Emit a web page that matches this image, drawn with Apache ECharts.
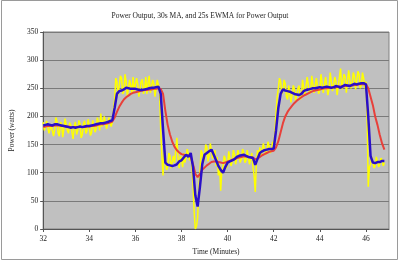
<!DOCTYPE html>
<html><head><meta charset="utf-8">
<script src="https://cdn.jsdelivr.net/npm/echarts@6/dist/echarts.min.js"></script>
<style>html,body{margin:0;padding:0;background:#fff}#c{width:400px;height:264px}</style>
</head><body><div id="c"></div>
<script>
// smoothed series sampled every 0.1 min
var times = [32.0,32.1,32.2,32.3,32.4,32.5,32.6,32.7,32.8,32.9,
33.0,33.1,33.2,33.3,33.4,33.5,33.6,33.7,33.8,33.9,
34.0,34.1,34.2,34.3,34.4,34.5,34.6,34.7,34.8,34.9,
35.0,35.1,35.2,35.3,35.4,35.5,35.6,35.7,35.8,35.9,
36.0,36.1,36.2,36.3,36.4,36.5,36.6,36.7,36.8,36.9,
37.0,37.1,37.2,37.3,37.4,37.5,37.6,37.7,37.8,37.9,
38.0,38.1,38.2,38.3,38.4,38.5,38.6,38.7,38.8,38.9,
39.0,39.1,39.2,39.3,39.4,39.5,39.6,39.7,39.8,39.9,
40.0,40.1,40.2,40.3,40.4,40.5,40.6,40.7,40.8,40.9,
41.0,41.1,41.2,41.3,41.4,41.5,41.6,41.7,41.8,41.9,
42.0,42.1,42.2,42.3,42.4,42.5,42.6,42.7,42.8,42.9,
43.0,43.1,43.2,43.3,43.4,43.5,43.6,43.7,43.8,43.9,
44.0,44.1,44.2,44.3,44.4,44.5,44.6,44.7,44.8,44.9,
45.0,45.1,45.2,45.3,45.4,45.5,45.6,45.7,45.8,45.9,
46.0,46.1,46.2,46.3,46.4,46.5,46.6,46.7,46.8];

// raw power sampled every 0.05 min
var rawTimes = [32.00,32.05,32.10,32.15,32.20,32.25,32.30,32.35,32.40,32.45,32.50,32.55,32.60,32.65,32.70,32.75,32.80,32.85,32.90,32.95,
33.00,33.05,33.10,33.15,33.20,33.25,33.30,33.35,33.40,33.45,33.50,33.55,33.60,33.65,33.70,33.75,33.80,33.85,33.90,33.95,
34.00,34.05,34.10,34.15,34.20,34.25,34.30,34.35,34.40,34.45,34.50,34.55,34.60,34.65,34.70,34.75,34.80,34.85,34.90,34.95,
35.00,35.05,35.10,35.15,35.20,35.25,35.30,35.35,35.40,35.45,35.50,35.55,35.60,35.65,35.70,35.75,35.80,35.85,35.90,35.95,
36.00,36.05,36.10,36.15,36.20,36.25,36.30,36.35,36.40,36.45,36.50,36.55,36.60,36.65,36.70,36.75,36.80,36.85,36.90,36.95,
37.00,37.05,37.10,37.15,37.20,37.25,37.30,37.35,37.40,37.45,37.50,37.55,37.60,37.65,37.70,37.75,37.80,37.85,37.90,37.95,
38.00,38.05,38.10,38.15,38.20,38.25,38.30,38.35,38.40,38.45,38.50,38.55,38.60,38.65,38.70,38.75,38.80,38.85,38.90,38.95,
39.00,39.05,39.10,39.15,39.20,39.25,39.30,39.35,39.40,39.45,39.50,39.55,39.60,39.65,39.70,39.75,39.80,39.85,39.90,39.95,
40.00,40.05,40.10,40.15,40.20,40.25,40.30,40.35,40.40,40.45,40.50,40.55,40.60,40.65,40.70,40.75,40.80,40.85,40.90,40.95,
41.00,41.05,41.10,41.15,41.20,41.25,41.30,41.35,41.40,41.45,41.50,41.55,41.60,41.65,41.70,41.75,41.80,41.85,41.90,41.95,
42.00,42.05,42.10,42.15,42.20,42.25,42.30,42.35,42.40,42.45,42.50,42.55,42.60,42.65,42.70,42.75,42.80,42.85,42.90,42.95,
43.00,43.05,43.10,43.15,43.20,43.25,43.30,43.35,43.40,43.45,43.50,43.55,43.60,43.65,43.70,43.75,43.80,43.85,43.90,43.95,
44.00,44.05,44.10,44.15,44.20,44.25,44.30,44.35,44.40,44.45,44.50,44.55,44.60,44.65,44.70,44.75,44.80,44.85,44.90,44.95,
45.00,45.05,45.10,45.15,45.20,45.25,45.30,45.35,45.40,45.45,45.50,45.55,45.60,45.65,45.70,45.75,45.80,45.85,45.90,45.95,
46.00,46.05,46.10,46.15,46.20,46.25,46.30,46.35,46.40,46.45,46.50,46.55,46.60,46.65,46.70,46.75,46.80];

var powerRaw = [190,175,172,192,195,170,168,185,188,165,176,198,192,170,165,190,186,163,178,196,
194,175,170,189,185,172,160,183,190,168,175,193,187,162,168,188,192,170,174,195,
183,166,171,193,196,172,178,198,189,175,205,182,180,200,197,178,176,198,200,182,
190,212,230,268,262,238,240,272,268,240,244,275,262,236,238,265,255,240,270,245,
242,268,258,235,236,262,266,240,248,270,240,260,272,242,245,265,258,235,238,265,
262,245,175,130,95,140,125,105,110,135,130,108,105,130,118,140,162,125,108,130,
125,110,135,118,120,142,140,122,130,115,80,30,0,5,20,70,100,140,135,118,
125,150,145,120,130,152,155,125,128,140,112,128,95,115,68,105,110,130,125,108,
115,138,135,112,120,140,132,115,118,140,138,118,125,142,135,118,122,140,138,115,
125,135,110,95,66,120,140,128,145,130,132,152,150,132,138,155,148,135,140,155,
150,170,205,235,250,268,262,240,245,265,258,235,230,255,252,225,228,255,248,228,
225,250,255,230,235,265,262,238,240,270,268,240,245,272,270,242,242,268,265,240,
248,275,272,242,240,270,268,238,250,278,275,245,245,270,262,238,240,270,285,248,
250,275,270,242,245,282,280,250,258,278,272,248,250,280,275,250,255,278,268,250,
262,200,75,110,115,128,125,108,112,128,128,110,115,126,122,112,118];

var ma30 = [184,185,186,185,184,186,186,185,184,183,
182,181,180,181,180,181,182,181,182,183,
183,184,185,186,187,188,188,189,190,192,
193,215,240,245,246,248,251,250,249,249,
249,248,247,247,248,249,250,251,251,252,
253,240,177,118,114,113,112,113,115,120,
122,127,132,128,135,110,60,40,75,115,
132,135,138,141,132,122,112,105,100,110,
118,120,122,124,128,130,131,132,130,128,
127,126,114,125,135,138,140,141,142,142,
143,175,215,240,248,246,245,244,242,240,
239,238,240,245,247,248,249,250,250,251,
252,251,252,253,252,251,252,254,253,251,
254,256,255,254,256,258,257,258,259,259,
257,200,130,118,117,119,119,121,121];

var ewma25 = [181,182,183,183,183,184,184,184,183,183,
182,182,181,181,181,181,181,181,181,182,
182,183,183,184,185,186,186,187,188,189,
191,198,208,217,224,230,234,237,240,242,
243,244,245,246,247,247,248,248,249,249,
250,249,240,210,185,168,155,146,140,136,
133,132,131,130,129,115,98,92,98,105,
109,113,116,119,120,120,119,118,117,118,
120,121,123,124,126,127,128,129,129,128,
128,127,124,125,128,131,133,135,137,138,
139,145,156,172,188,200,208,214,219,224,
228,231,234,237,239,241,243,245,246,247,
248,249,250,250,251,251,252,252,253,253,
253,254,254,255,255,256,256,257,257,257,
257,250,235,220,200,185,167,152,141];

var xTickLabels = [32,34,36,38,40,42,44,46];
var yTicks = [0,50,100,150,200,250,300,350];

function pairs(tt, v){ return tt.map(function(t,i){ return [t, v[i]]; }); }

var chart = echarts.init(document.getElementById('c'), null, {renderer:'canvas'});
var font = 'Liberation Serif';
chart.setOption({
  animation:false,
  backgroundColor:'#ffffff',
  graphic:[{type:'rect', shape:{x:1.5,y:0.5,width:396,height:259}, style:{fill:'none', stroke:'#9a9a9a', lineWidth:1}, silent:true}],
  title:{text:'Power Output, 30s MA, and 25s EWMA for Power Output', left:'center', top:7,
    textStyle:{fontFamily:font, fontSize:7.5, fontWeight:'normal', color:'#222'}},
  grid:{left:36, top:32, right:11, bottom:35, show:true, backgroundColor:'#c0c0c0', borderColor:'#808080', borderWidth:1},
  xAxis:{type:'value', min:32, max:47, interval:2,
    name:'Time (Minutes)', nameLocation:'middle', nameGap:17,
    nameTextStyle:{fontFamily:font, fontSize:7.5, color:'#222'},
    axisLine:{show:true, lineStyle:{color:'#555', width:1}},
    axisTick:{show:true, length:3, lineStyle:{color:'#555'}},
    axisLabel:{fontFamily:font, fontSize:7.5, color:'#222', margin:6, showMaxLabel:false,
      formatter:function(v){ return xTickLabels.indexOf(v) >= 0 ? String(v) : ''; }},
    splitLine:{show:false}},
  yAxis:{type:'value', min:0, max:350, interval:50,
    name:'Power (watts)', nameLocation:'middle', nameGap:22, nameRotate:90,
    nameTextStyle:{fontFamily:font, fontSize:7.5, color:'#222'},
    axisLine:{show:true, lineStyle:{color:'#555', width:1}},
    axisTick:{show:true, length:3, lineStyle:{color:'#555'}},
    axisLabel:{fontFamily:font, fontSize:7.5, color:'#222', margin:5,
      formatter:function(v){ return yTicks.indexOf(v) >= 0 ? String(v) : ''; }},
    splitLine:{show:true, lineStyle:{color:'#7a7a7a', width:1}}},
  series:[
    {name:'Power', type:'line', data:pairs(rawTimes, powerRaw), showSymbol:false, symbol:'none',
      lineStyle:{color:'#ffff00', width:1.5}, z:1},
    {name:'25s EWMA', type:'line', data:pairs(times, ewma25), showSymbol:false, symbol:'none',
      lineStyle:{color:'#e8403a', width:2}, z:2},
    {name:'30s MA', type:'line', data:pairs(times, ma30), showSymbol:false, symbol:'none',
      lineStyle:{color:'#2a0fc8', width:2.5}, z:3}
  ]
});
</script></body></html>
